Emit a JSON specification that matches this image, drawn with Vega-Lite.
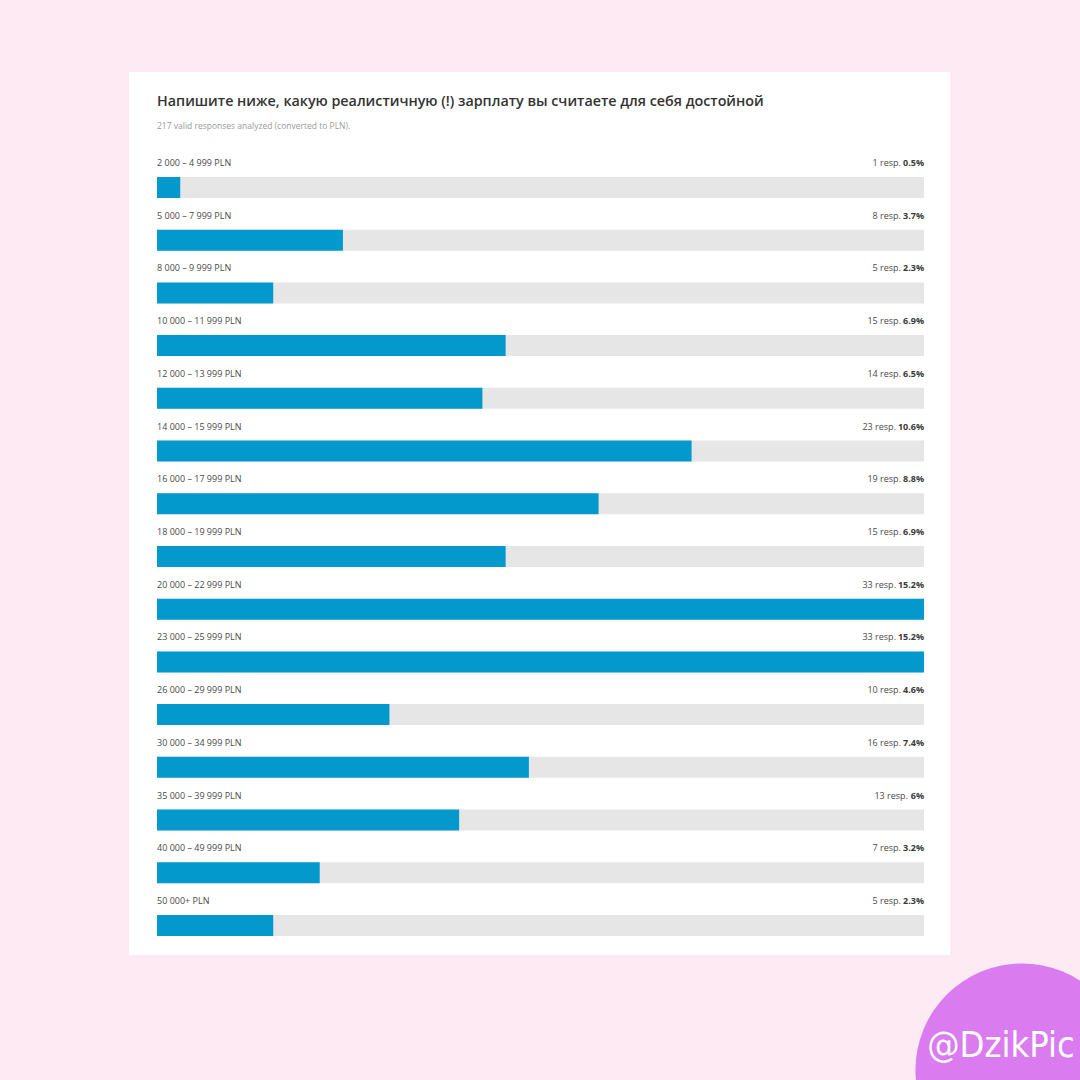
{
  "$schema": "https://vega.github.io/schema/vega-lite/v6.json",
  "width": 821,
  "height": 883,
  "autosize": "none",
  "padding": {"left": 129, "top": 72, "right": 130, "bottom": 125},
  "background": "#fdeaf3",
  "title": {
    "text": "Напишите ниже, какую реалистичную (!) зарплату вы считаете для себя достойной",
    "subtitle": "217 valid responses analyzed (converted to PLN).",
    "anchor": "start",
    "frame": "group",
    "offset": -58,
    "dx": 28,
    "font": "Open Sans",
    "fontSize": 14.3,
    "fontWeight": 600,
    "color": "#333333",
    "subtitleFont": "Open Sans",
    "subtitleFontSize": 8.5,
    "subtitleColor": "#9a9a9a",
    "subtitlePadding": 12
  },
  "config": {"view": {"fill": "white", "stroke": null}, "font": "Open Sans"},
  "data": {
    "values": [
      {"row": 1, "range": "2 000 – 4 999 PLN", "count": 1, "pct": "0.5%"},
      {"row": 2, "range": "5 000 – 7 999 PLN", "count": 8, "pct": "3.7%"},
      {"row": 3, "range": "8 000 – 9 999 PLN", "count": 5, "pct": "2.3%"},
      {"row": 4, "range": "10 000 – 11 999 PLN", "count": 15, "pct": "6.9%"},
      {"row": 5, "range": "12 000 – 13 999 PLN", "count": 14, "pct": "6.5%"},
      {"row": 6, "range": "14 000 – 15 999 PLN", "count": 23, "pct": "10.6%"},
      {"row": 7, "range": "16 000 – 17 999 PLN", "count": 19, "pct": "8.8%"},
      {"row": 8, "range": "18 000 – 19 999 PLN", "count": 15, "pct": "6.9%"},
      {"row": 9, "range": "20 000 – 22 999 PLN", "count": 33, "pct": "15.2%"},
      {"row": 10, "range": "23 000 – 25 999 PLN", "count": 33, "pct": "15.2%"},
      {"row": 11, "range": "26 000 – 29 999 PLN", "count": 10, "pct": "4.6%"},
      {"row": 12, "range": "30 000 – 34 999 PLN", "count": 16, "pct": "7.4%"},
      {"row": 13, "range": "35 000 – 39 999 PLN", "count": 13, "pct": "6%"},
      {"row": 14, "range": "40 000 – 49 999 PLN", "count": 7, "pct": "3.2%"},
      {"row": 15, "range": "50 000+ PLN", "count": 5, "pct": "2.3%"}
    ]
  },
  "layer": [
    {
      "mark": {"type": "bar", "orient": "horizontal", "size": 21, "color": "#e6e6e6"},
      "encoding": {
        "x": {"datum": 0, "type": "quantitative", "scale": {"domain": [-1.2047, 34.1186], "nice": false, "zero": false, "padding": 0}, "axis": null},
        "x2": {"datum": 33},
        "y": {"field": "row", "type": "quantitative", "scale": {"domain": [-1.191, 15.561], "nice": false, "zero": false, "reverse": true, "padding": 0}, "axis": null}
      }
    },
    {
      "mark": {"type": "bar", "orient": "horizontal", "size": 21, "color": "#0499cd"},
      "encoding": {
        "x": {"field": "count", "type": "quantitative"},
        "x2": {"datum": 0},
        "y": {"field": "row", "type": "quantitative"}
      }
    },
    {
      "mark": {"type": "text", "align": "left", "baseline": "middle", "dy": -24.5, "fontSize": 9, "color": "#4a4a4a"},
      "encoding": {
        "x": {"datum": 0, "type": "quantitative"},
        "y": {"field": "row", "type": "quantitative"},
        "text": {"field": "range"}
      }
    },
    {
      "mark": {"type": "text", "align": "right", "baseline": "middle", "dy": -24.5, "fontSize": 9, "fontWeight": "bold", "color": "#3a3a3a"},
      "encoding": {
        "x": {"datum": 33, "type": "quantitative"},
        "y": {"field": "row", "type": "quantitative"},
        "text": {"field": "pct"}
      }
    },
    {
      "transform": [
        {"filter": "length(datum.pct) == 4"},
        {"calculate": "datum.count + ' resp.'", "as": "resp"}
      ],
      "mark": {"type": "text", "align": "right", "baseline": "middle", "dy": -24.5, "dx": -23, "fontSize": 9, "color": "#4a4a4a"},
      "encoding": {
        "x": {"datum": 33, "type": "quantitative"},
        "y": {"field": "row", "type": "quantitative"},
        "text": {"field": "resp"}
      }
    },
    {
      "transform": [
        {"filter": "length(datum.pct) == 5"},
        {"calculate": "datum.count + ' resp.'", "as": "resp"}
      ],
      "mark": {"type": "text", "align": "right", "baseline": "middle", "dy": -24.5, "dx": -28, "fontSize": 9, "color": "#4a4a4a"},
      "encoding": {
        "x": {"datum": 33, "type": "quantitative"},
        "y": {"field": "row", "type": "quantitative"},
        "text": {"field": "resp"}
      }
    },
    {
      "transform": [
        {"filter": "length(datum.pct) == 2"},
        {"calculate": "datum.count + ' resp.'", "as": "resp"}
      ],
      "mark": {"type": "text", "align": "right", "baseline": "middle", "dy": -24.5, "dx": -16, "fontSize": 9, "color": "#4a4a4a"},
      "encoding": {
        "x": {"datum": 33, "type": "quantitative"},
        "y": {"field": "row", "type": "quantitative"},
        "text": {"field": "resp"}
      }
    },
    {
      "data": {"values": [{"handle": "@DzikPic"}]},
      "mark": {"type": "point", "shape": "circle", "filled": true, "opacity": 1, "size": 45400, "color": "#da7cf0"},
      "encoding": {
        "x": {"datum": 37.216, "type": "quantitative"},
        "y": {"datum": 17.743, "type": "quantitative"}
      }
    },
    {
      "data": {"values": [{"handle": "@DzikPic"}]},
      "mark": {"type": "text", "align": "center", "baseline": "middle", "font": "DejaVu Sans Condensed, Liberation Sans, sans-serif", "fontSize": 36, "color": "white"},
      "encoding": {
        "x": {"datum": 36.313, "type": "quantitative"},
        "y": {"datum": 17.288, "type": "quantitative"},
        "text": {"field": "handle"}
      }
    }
  ]
}
